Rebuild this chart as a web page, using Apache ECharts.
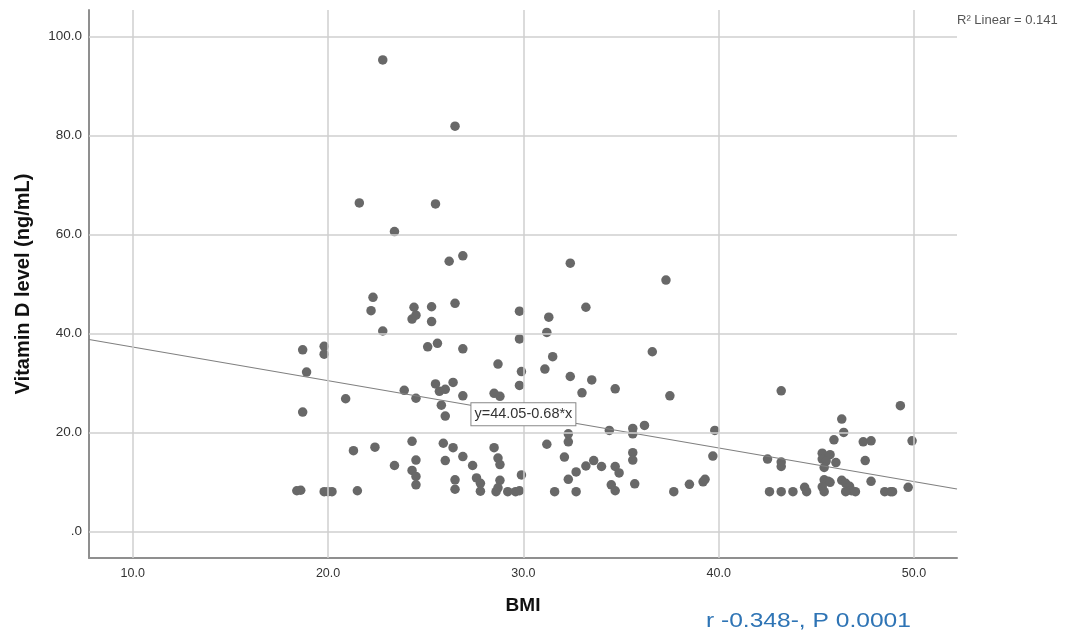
<!DOCTYPE html>
<html>
<head>
<meta charset="utf-8">
<script src="https://cdn.jsdelivr.net/npm/echarts@6/dist/echarts.min.js"></script>
<style>
html,body{margin:0;padding:0;background:#fff;}
#chart{width:1070px;height:637px;}
</style>
</head>
<body>
<div id="chart"></div>
<script>
// BMI vs Vitamin D level (ng/mL)
const points = [
  [22.8,95.3],[26.5,81.9],[21.6,66.4],[25.5,66.2],[23.4,60.6],[26.2,54.6],[26.9,55.7],[32.4,54.2],[37.3,50.8],
  [22.3,47.3],[22.2,44.6],[22.8,40.5],[24.4,45.3],[24.3,42.9],[24.5,43.7],[25.3,45.4],[25.3,42.4],[26.5,46.1],
  [18.7,36.7],[19.8,37.4],[19.8,35.8],[18.9,32.2],[20.9,26.8],[18.7,24.1],
  [23.9,28.5],[24.5,26.9],
  [25.1,37.3],[25.6,38.0],[26.9,36.9],[28.7,33.8],[29.8,44.5],[31.3,43.3],[31.2,40.2],[29.8,38.9],[31.5,35.3],[31.1,32.8],[29.9,32.3],[29.8,29.5],
  [25.5,29.8],[25.7,28.3],[26.0,28.7],[26.4,30.1],[26.9,27.4],[25.8,25.5],[26.0,23.3],[28.5,27.9],[28.8,27.3],
  [33.2,45.3],[36.6,36.3],[32.4,31.3],[33.5,30.6],[33.0,28.0],[34.7,28.8],[37.5,27.4],
  [21.3,16.3],[22.4,17.0],[24.3,18.2],[23.4,13.3],[24.5,14.4],[24.3,12.3],[24.5,11.1],[24.5,9.4],
  [18.4,8.2],[18.6,8.3],[19.8,8.0],[20.0,8.0],[20.2,8.0],[21.5,8.2],
  [25.9,17.8],[26.4,16.9],[26.0,14.3],[26.9,15.1],[27.4,13.3],[28.5,16.9],[28.7,14.8],[28.8,13.5],
  [26.5,10.4],[26.5,8.5],[27.6,10.8],[27.8,9.7],[27.8,8.1],[28.8,10.3],[28.7,8.8],[28.6,8.0],[29.2,8.0],[29.6,8.0],[29.8,8.2],[29.9,11.4],
  [31.2,17.6],[31.6,8.0],
  [32.3,19.7],[32.3,18.1],[34.4,20.4],[35.6,20.8],[35.6,19.7],[36.2,21.4],[32.1,15.0],[35.6,15.9],[35.6,14.4],
  [33.2,13.2],[33.6,14.3],[34.0,13.1],[32.7,12.0],[32.3,10.5],[34.7,13.1],[34.9,11.8],[35.7,9.6],[34.5,9.4],[34.7,8.2],
  [32.7,8.0],[37.7,8.0],[38.5,9.5],
  [39.8,20.4],[39.7,15.2],[39.2,10.0],[39.3,10.5],
  [43.2,28.4],[42.5,14.6],[43.2,14.0],[43.2,13.1],[42.6,8.0],[43.2,8.0],[43.8,8.0],[44.4,8.9],[44.5,8.0],
  [46.3,22.7],[46.4,20.0],[45.9,18.5],[47.4,18.1],[47.8,18.3],[49.9,18.3],[49.3,25.4],
  [45.3,15.8],[45.7,15.5],[45.3,14.6],[45.5,14.2],[45.4,12.9],[46.0,13.9],[47.5,14.3],
  [45.4,10.4],[45.6,10.1],[45.7,9.9],[45.3,9.0],[45.4,8.0],[46.3,10.3],[46.5,9.7],[46.7,9.1],[46.8,8.2],[46.5,8.0],[47.0,8.0],
  [47.8,10.1],[48.5,8.0],[48.8,8.0],[48.9,8.0],[49.7,8.9]
];
const xTicks = [10, 20, 30, 40, 50];
const yTicks = [0, 20, 40, 60, 80, 100];
const fitIntercept = 44.05;
const fitSlope = -0.68;
const rSquared = '0.141';
const xRange = [7.76, 52.2];
const yRange = [-5.4, 105.4];

const fitLine = xRange.map(x => [x, fitIntercept + fitSlope * x]);
const labelX = 30;

const chart = echarts.init(document.getElementById('chart'), null, {renderer: 'canvas'});
chart.setOption({
  animation: false,
  backgroundColor: '#fff',
  grid: {left: 89, right: 113, top: 10, bottom: 79, containLabel: false},
  xAxis: {
    type: 'value', min: xRange[0], max: xRange[1],
    name: 'BMI', nameLocation: 'middle', nameGap: 38,
    nameTextStyle: {fontFamily: 'Liberation Sans', fontWeight: 'bold', fontSize: 19, color: '#111'},
    axisLine: {show: true, onZero: false, lineStyle: {color: '#8f8f8f', width: 2}},
    axisTick: {show: false},
    splitLine: {show: false},
    axisLabel: {customValues: xTicks, formatter: v => v.toFixed(1), margin: 9,
      fontFamily: 'Liberation Sans', fontSize: 12.5, color: '#333'}
  },
  yAxis: {
    type: 'value', min: yRange[0], max: yRange[1],
    name: 'Vitamin D level (ng/mL)', nameLocation: 'middle', nameGap: 56,
    nameTextStyle: {fontFamily: 'Liberation Sans', fontWeight: 'bold', fontSize: 20, color: '#111'},
    axisLine: {show: true, onZero: false, lineStyle: {color: '#8f8f8f', width: 2}},
    axisTick: {show: false},
    splitLine: {show: false},
    axisLabel: {customValues: yTicks, formatter: v => v === 0 ? '.0' : v.toFixed(1), margin: 7,
      fontFamily: 'Liberation Sans', fontSize: 13.5, color: '#333'}
  },
  series: [
    {
      type: 'scatter', data: [], z: 1, silent: true,
      markLine: {
        silent: true, symbol: 'none', animation: false,
        label: {show: false},
        lineStyle: {color: '#cfcfcf', width: 1.5, type: 'solid'},
        emphasis: {disabled: true},
        data: xTicks.map(v => ({xAxis: v})).concat(yTicks.map(v => ({yAxis: v})))
      }
    },
    {
      type: 'scatter', data: points, z: 3, symbol: 'circle', symbolSize: 9.5,
      itemStyle: {color: '#686868', opacity: 1}
    },
    {
      type: 'line', data: fitLine, z: 4, symbol: 'none', silent: true,
      lineStyle: {color: '#808080', width: 1.2},
      markPoint: {
        silent: true, symbol: 'rect', symbolSize: 1, itemStyle: {color: 'rgba(0,0,0,0)'},
        data: [{coord: [labelX, fitIntercept + fitSlope * labelX]}],
        label: {
          show: true, position: 'inside',
          formatter: 'y=' + fitIntercept.toFixed(2) + '-' + Math.abs(fitSlope).toFixed(2) + '*x',
          fontFamily: 'Liberation Sans', fontSize: 14.5, color: '#333',
          backgroundColor: '#fff', borderColor: '#888', borderWidth: 1, padding: [4, 3, 3, 3]
        }
      }
    }
  ],
  graphic: [
    {type: 'text', left: 957, top: 14,
      style: {text: 'R² Linear = ' + rSquared, font: '13px "Liberation Sans"', fill: '#555'}},
    {type: 'text', left: 706, top: 611, scaleX: 1.17,
      style: {text: 'r -0.348-, P 0.0001', font: '21px "Liberation Sans"', fill: '#2e74b5'}}
  ]
});
</script>
</body>
</html>
